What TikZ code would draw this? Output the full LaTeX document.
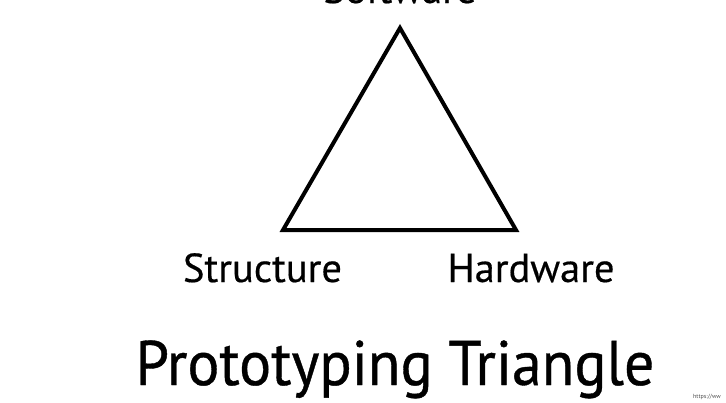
\documentclass[tikz,border=0pt]{standalone}
\usepackage{fontspec}
\setmainfont{PT Sans}
\newfontfamily\titlefont[FakeStretch=0.95,FakeBold=0.6]{PT Sans}
\newfontfamily\labfont[FakeBold=0.4]{PT Sans}
\begin{document}
\begin{tikzpicture}[x=1pt,y=-1pt,
  lab/.style={anchor=base,inner sep=0pt,font=\labfont\fontsize{40.5}{44}\selectfont},
  tri/.style={draw=black,line width=4pt,line join=miter}]
\useasboundingbox[fill=white] (0,0) rectangle (726,402);
\coordinate (top) at (400,28);
\coordinate (bl) at (283,230);
\coordinate (br) at (516,230);
\draw[tri] (top) -- (bl) -- (br) -- cycle;
\node[lab] (sw) at (400,3) {Software};
\node[lab] (st) at (262.5,282) {Structure};
\node[lab] (hw) at (531,282) {Hardware};
\node[anchor=base,inner sep=0pt,font=\titlefont\fontsize{63}{70}\selectfont] (title) at (395,385) {Prototyping Triangle};
\node[anchor=base west,inner sep=0pt,font=\fontsize{6}{7}\selectfont,text=black!70] (url) at (693,398) {https://ww};
\end{tikzpicture}
\end{document}
